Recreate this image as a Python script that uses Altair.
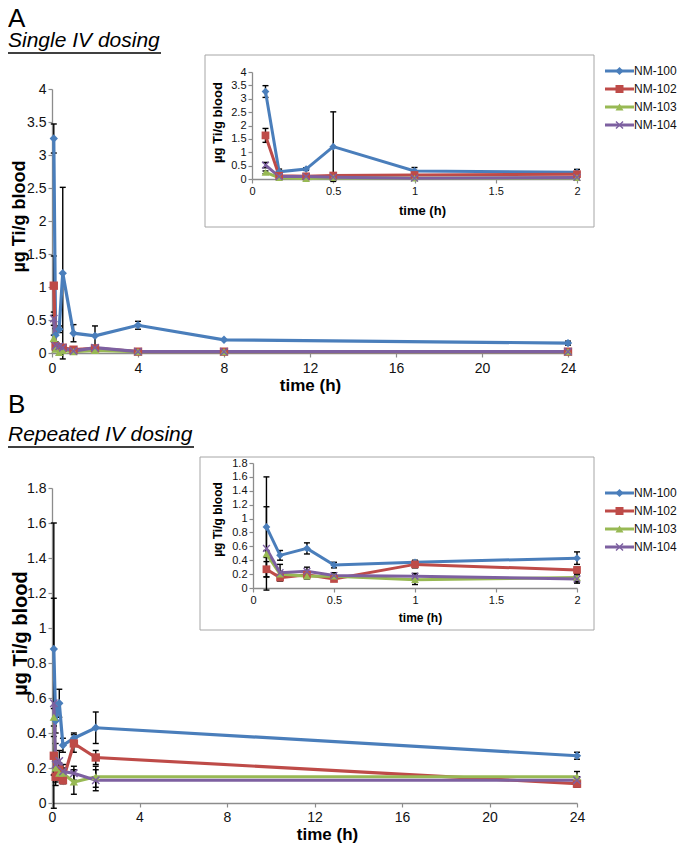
import altair as alt
import pandas as pd

FONT = "Liberation Sans"
SERIES = ["NM-100", "NM-102", "NM-103", "NM-104"]
COLORS = ["#4A7EBB", "#BE4B48", "#98B954", "#7D60A0"]
X_MARK = "M-1,-0.75L-0.75,-1L0,-0.25L0.75,-1L1,-0.75L0.25,0L1,0.75L0.75,1L0,0.25L-0.75,1L-1,0.75L-0.25,0Z"
SHAPES = ["diamond", "square", "triangle-up", X_MARK]

# ---------- Panel A : single IV dosing, main chart ----------
A_MAIN_T = [0.083, 0.167, 0.333, 0.5, 1, 2, 4, 8, 24]
A_MAIN_NM100 = [3.25, 0.27, 0.36, 1.21, 0.30, 0.26, 0.42, 0.20, 0.15]
A_MAIN_NM100_ERR = [0.22, 0.10, 0.05, 1.30, 0.13, 0.15, 0.06, 0.0, 0.03]
A_MAIN_NM102 = [1.02, 0.10, 0.08, 0.08, 0.05, 0.07, 0.02, 0.02, 0.02]
A_MAIN_NM102_ERR = [0.45, 0.04, 0.0, 0.0, 0.0, 0.0, 0.0, 0.0, 0.0]
A_MAIN_NM103 = [0.22, 0.06, 0.01, 0.04, 0.02, 0.04, 0.02, 0.02, 0.02]
A_MAIN_NM103_ERR = [0.05, 0.02, 0.0, 0.0, 0.0, 0.0, 0.0, 0.0, 0.0]
A_MAIN_NM104 = [0.52, 0.11, 0.10, 0.08, 0.03, 0.08, 0.02, 0.02, 0.02]
A_MAIN_NM104_ERR = [0.10, 0.03, 0.03, 0.0, 0.0, 0.02, 0.0, 0.0, 0.0]

# ---------- Panel A : inset (0-2 h) ----------
A_IN_T = [0.083, 0.167, 0.333, 0.5, 1, 2]
A_IN_NM100 = [3.27, 0.27, 0.37, 1.21, 0.30, 0.25]
A_IN_NM100_ERR = [0.22, 0.10, 0.05, 1.30, 0.13, 0.11]
A_IN_NM102 = [1.63, 0.12, 0.10, 0.13, 0.15, 0.18]
A_IN_NM102_ERR = [0.26, 0.05, 0.03, 0.05, 0.03, 0.03]
A_IN_NM103 = [0.25, 0.05, 0.01, 0.05, 0.03, 0.05]
A_IN_NM103_ERR = [0.05, 0.02, 0.0, 0.02, 0.0, 0.0]
A_IN_NM104 = [0.52, 0.09, 0.09, 0.07, 0.03, 0.06]
A_IN_NM104_ERR = [0.10, 0.03, 0.03, 0.02, 0.0, 0.02]

# ---------- Panel B : repeated IV dosing ----------
B_T = [0.083, 0.167, 0.333, 0.5, 1, 2, 24]
B_NM100 = [0.88, 0.47, 0.57, 0.33, 0.37, 0.43, 0.27]
B_NM100_ERR = [0.72, 0.07, 0.08, 0.04, 0.03, 0.09, 0.02]
B_NM102 = [0.27, 0.15, 0.19, 0.13, 0.34, 0.26, 0.11]
B_NM102_ERR = [0.11, 0.03, 0.04, 0.02, 0.05, 0.04, 0.02]
B_NM103 = [0.49, 0.20, 0.17, 0.17, 0.12, 0.15, 0.15]
B_NM103_ERR = [0.05, 0.04, 0.04, 0.03, 0.07, 0.06, 0.03]
B_NM104 = [0.57, 0.22, 0.24, 0.18, 0.17, 0.13, 0.13]
B_NM104_ERR = [0.60, 0.12, 0.06, 0.04, 0.04, 0.06, 0.02]

MAIN_X_TICKS = [0, 4, 8, 12, 16, 20, 24]
INSET_X_TICKS = [0, 0.5, 1, 1.5, 2]
A_Y_TICKS = [0, 0.5, 1, 1.5, 2, 2.5, 3, 3.5, 4]
B_Y_TICKS = [0, 0.2, 0.4, 0.6, 0.8, 1, 1.2, 1.4, 1.6, 1.8]
Y_TITLE = "µg Ti/g blood"
X_TITLE = "time (h)"


def table(times, vals, errs):
    rows = []
    for name, vv, ee in zip(SERIES, vals, errs):
        for t, v, e in zip(times, vv, ee):
            rows.append(dict(series=name, t=t, v=v, err=e, lo=v - e, hi=v + e))
    return pd.DataFrame(rows)


df_a_main = table(A_MAIN_T,
                  [A_MAIN_NM100, A_MAIN_NM102, A_MAIN_NM103, A_MAIN_NM104],
                  [A_MAIN_NM100_ERR, A_MAIN_NM102_ERR, A_MAIN_NM103_ERR, A_MAIN_NM104_ERR])
df_a_in = table(A_IN_T,
                [A_IN_NM100, A_IN_NM102, A_IN_NM103, A_IN_NM104],
                [A_IN_NM100_ERR, A_IN_NM102_ERR, A_IN_NM103_ERR, A_IN_NM104_ERR])
df_b = table(B_T, [B_NM100, B_NM102, B_NM103, B_NM104],
             [B_NM100_ERR, B_NM102_ERR, B_NM103_ERR, B_NM104_ERR])
df_b_in = df_b[df_b.t <= 2].reset_index(drop=True)

H = 836
W = 669

COLOR = alt.Color("series:N", scale=alt.Scale(domain=SERIES, range=COLORS), legend=None)
SHAPE = alt.Shape("series:N", scale=alt.Scale(domain=SERIES, range=SHAPES), legend=None)


def axis(orient, offset, values, title, tfs, lfs, tx, ty, lpad=2):
    return alt.Axis(orient=orient, offset=offset, values=values, title=title, format="~g",
                    grid=False, labelOverlap=False, labelFlush=False,
                    labelFontSize=lfs, titleFontSize=tfs, titleFontWeight="bold",
                    titleX=tx, titleY=ty, titleBaseline="middle", titleAlign="center",
                    titleAngle=(270 if orient == "left" else 0),
                    domainColor="#8c8c8c", domainWidth=1.3, tickColor="#8c8c8c",
                    tickWidth=1.2, tickSize=4, labelPadding=lpad,
                    labelColor="#111111", titleColor="#000000",
                    labelFont=FONT, titleFont=FONT)


def plot(df, xdom, xr, ydom, yr, xax, yax, msize, lw):
    xs = alt.Scale(domain=xdom, range=xr, nice=False, zero=False)
    ys = alt.Scale(domain=ydom, range=yr, nice=False, zero=False)
    X = alt.X("t:Q", scale=xs, axis=xax)

    def Y(f):
        return alt.Y(f + ":Q", scale=ys, axis=yax)

    base = alt.Chart(df)
    eb = base.transform_filter("datum.err > 0")
    rule = eb.mark_rule(color="black", strokeWidth=1.4).encode(x=X, y=Y("lo"), y2="hi:Q")
    cap_lo = eb.mark_point(shape="stroke", size=36, color="black", strokeWidth=1.4,
                           opacity=1).encode(x=X, y=Y("lo"))
    cap_hi = eb.mark_point(shape="stroke", size=36, color="black", strokeWidth=1.4,
                           opacity=1).encode(x=X, y=Y("hi"))
    line = base.mark_line(strokeWidth=lw).encode(x=X, y=Y("v"), color=COLOR)
    pts = base.mark_point(filled=True, size=msize, opacity=1).encode(
        x=X, y=Y("v"), color=COLOR, shape=SHAPE)
    return alt.layer(rule, cap_lo, cap_hi, line, pts)


def legend(y0, y1):
    d = pd.DataFrame({"series": SERIES, "idx": [0, 1, 2, 3]})
    yl = alt.Y("idx:Q", scale=alt.Scale(domain=[0, 3], range=[y0, y1]), axis=None)
    base = alt.Chart(d)
    r = base.mark_rule(strokeWidth=3).encode(x=alt.value(597), x2=alt.value(626), y=yl, color=COLOR)
    p = base.mark_point(filled=True, size=64, opacity=1).encode(
        x=alt.value(611.5), y=yl, color=COLOR, shape=SHAPE)
    t = base.mark_text(align="left", baseline="middle", fontSize=12, font=FONT,
                       color="#111111").encode(x=alt.value(626), y=yl, text="series:N")
    return alt.layer(r, p, t)


def box(x0, x1, y0, y1):
    return alt.Chart(pd.DataFrame({"k": [0]})).mark_rect(
        fillOpacity=0, stroke="#a6a6a6", strokeWidth=1).encode(
        x=alt.value(x0), x2=alt.value(x1), y=alt.value(y0), y2=alt.value(y1))


def heading(letter, sub, y_letter, y_sub, underline_w):
    d = pd.DataFrame({"letter": [letter], "sub": [sub]})
    base = alt.Chart(d)
    a = base.mark_text(align="left", baseline="alphabetic", fontSize=26, font=FONT,
                       color="#000000").encode(x=alt.value(0), y=alt.value(y_letter), text="letter:N")
    s = base.mark_text(align="left", baseline="alphabetic", fontSize=21, font=FONT,
                       fontStyle="italic", color="#000000").encode(
        x=alt.value(0), y=alt.value(y_sub), text="sub:N")
    u = base.mark_rule(color="#000000", strokeWidth=1.3).encode(
        x=alt.value(0), x2=alt.value(underline_w), y=alt.value(y_sub + 6))
    return alt.layer(a, s, u)


# ---- panel A ----
a_main = plot(df_a_main, [0, 24], [44, 560], [0, 4], [345, 81],
              axis("bottom", 345 - H, MAIN_X_TICKS, X_TITLE, 17, 14, 302, 32, lpad=4),
              axis("left", -44, A_Y_TICKS, Y_TITLE, 18, 14, -33, 208), 70, 3.2)
a_in = plot(df_a_in, [0, 2], [244, 569], [0, 4], [171, 64],
            axis("bottom", 171 - H, INSET_X_TICKS, X_TITLE, 13, 11, 414, 31),
            axis("left", -244, A_Y_TICKS, Y_TITLE, 13, 11, -35, 114), 60, 3)

# ---- panel B ----
b_main = plot(df_b, [0, 24], [44, 569], [0, 1.8], [795, 480],
              axis("bottom", 795 - H, MAIN_X_TICKS, X_TITLE, 17, 14, 319, 31, lpad=3),
              axis("left", -44, B_Y_TICKS, Y_TITLE, 20, 14, -32, 625), 70, 3.2)
b_in = plot(df_b_in, [0, 2], [245, 569], [0, 1.8], [580, 455],
            axis("bottom", 580 - H, INSET_X_TICKS, X_TITLE, 12, 11, 412, 29),
            axis("left", -245, B_Y_TICKS, Y_TITLE, 12, 11, -36, 511), 60, 3)

chart = alt.layer(
    box(197, 586, 47, 219),
    box(192, 586, 449, 622),
    heading("A", "Single IV dosing", 19, 39, 153),
    heading("B", "Repeated IV dosing", 405, 433, 186),
    a_main, a_in, legend(63, 117),
    b_main, b_in, legend(485, 539),
).resolve_scale(x="independent", y="independent").properties(
    width=W, height=H, padding=0, autosize=alt.AutoSizeParams(type="none")
).configure_view(stroke=None).configure_text(font=FONT)

chart.save("out.html", embed_options={"renderer": "svg", "actions": False})
